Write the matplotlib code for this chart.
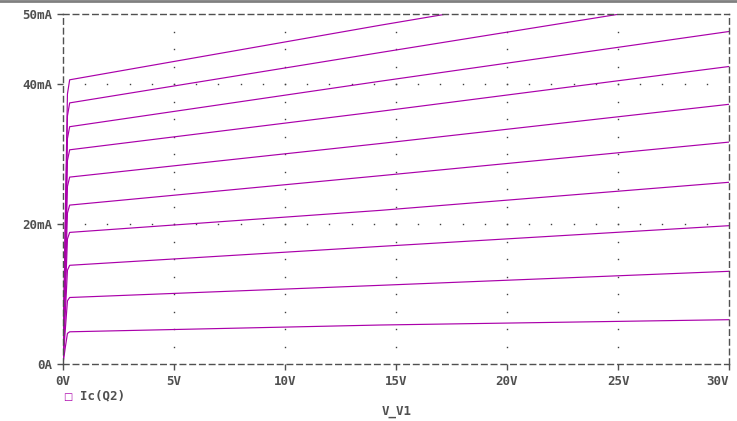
import matplotlib
matplotlib.use("Agg")
import matplotlib.pyplot as plt
import numpy as np

# Ic(Q2) 曲線族：每條曲線在相同的 V_V1 取樣點上讀值 (mA)
v_pts = [0.0, 0.1, 0.2, 0.3, 14.3, 30.0]
knee_ma = [4.6, 9.5, 14.1, 18.8, 22.7, 26.7, 30.6, 33.9, 37.3, 40.6]
mid_ma = [5.57, 11.24, 16.8, 21.95, 26.9, 31.5, 36.1, 40.4, 44.5, 48.4]
end_ma = [6.33, 13.24, 19.76, 25.96, 31.7, 37.1, 42.5, 47.5, 52.5, 56.8]

x_ticks = [0, 5, 10, 15, 20, 25, 30]
x_labels = ["0V", "5V", "10V", "15V", "20V", "25V", "30V"]
y_ticks = [0, 20, 40, 50]
y_labels = ["0A", "20mA", "40mA", "50mA"]

CURVE = "#aa00aa"
GREY = "#505050"
FONT = dict(family="DejaVu Sans Mono", weight="bold", size=9, color=GREY)

fig = plt.figure(figsize=(7.37, 4.21), dpi=100)
ax = fig.add_axes([63 / 737, 57 / 421, 666 / 737, 350 / 421])

# 網格點：橫線每 1V 一點，直線每 2.5mA 一點
for gy in [20, 40]:
    gx = np.arange(1, 30)
    ax.plot(gx, np.full_like(gx, gy, dtype=float), ls="none", marker="s",
            ms=1.0, mew=0, color="#404040")
for gx in [5, 10, 15, 20, 25]:
    gy = np.arange(2.5, 50, 2.5)
    ax.plot(np.full_like(gy, gx), gy, ls="none", marker="s",
            ms=1.0, mew=0, color="#404040")

for k, m, e in zip(knee_ma, mid_ma, end_ma):
    ic = [0.0, 0.5 * k, 0.95 * k, k, m, e]
    ax.plot(v_pts, ic, color=CURVE, lw=0.85)

ax.set_xlim(0, 30)
ax.set_ylim(0, 50)
ax.set_xticks(x_ticks)
ax.set_xticklabels(x_labels, **FONT)
ax.set_yticks(y_ticks)
ax.set_yticklabels(y_labels, **FONT)
# 最右側標籤靠右對齊，避免超出畫布
ax.get_xticklabels()[-1].set_ha("right")
ax.tick_params(direction="out", length=4, width=1, color=GREY, pad=4)
for sp in ax.spines.values():
    sp.set_linestyle((0, (4, 3)))
    sp.set_color(GREY)
    sp.set_linewidth(1.0)

# 圖例與 x 軸標題
fig.text(68 / 737, 1 - 397 / 421, "\u25a1", ha="center", va="center",
         color=CURVE, fontsize=7)
fig.text(80 / 737, 1 - 396 / 421, "Ic(Q2)", ha="left", va="center", **FONT)
fig.text(397 / 737, 1 - 411 / 421, "V_V1", ha="center", va="center", **FONT)

# 視窗頂端灰線
fig.add_artist(plt.Line2D([0, 1], [1 - 1 / 421, 1 - 1 / 421],
                          color="#808080", lw=2, transform=fig.transFigure))

fig.savefig("out.png", dpi=100)
